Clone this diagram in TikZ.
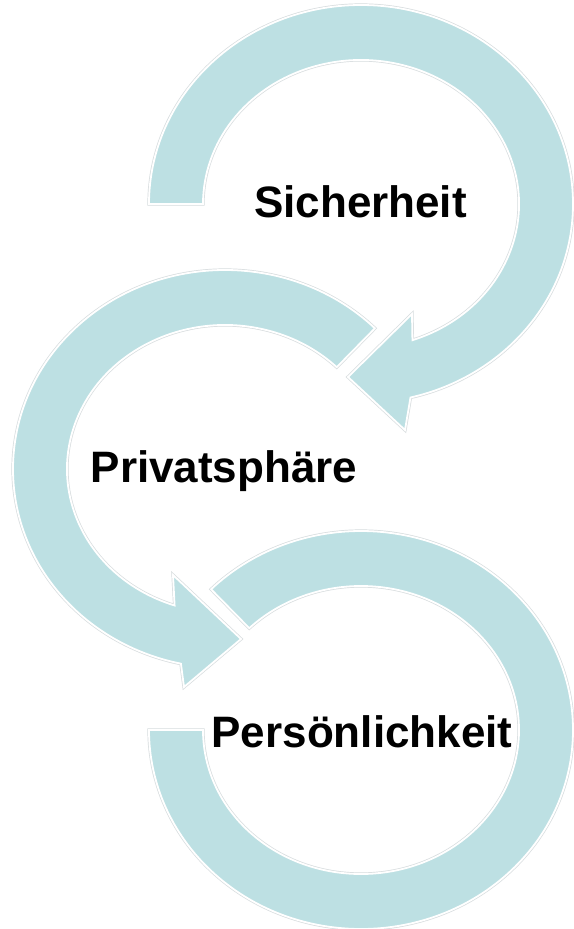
\documentclass[tikz,border=0pt]{standalone}
\usepackage{fontspec}
\setmainfont{Liberation Sans}
\usetikzlibrary{calc}
\definecolor{bandfill}{RGB}{189,224,227}
\definecolor{rim}{RGB}{215,220,222}
\tikzset{
  band/.style={fill=bandfill, draw=white, line width=1.8pt, line join=miter},
  bandrim/.style={draw=rim, line width=3.2pt, line join=miter},
  label/.style={font=\fontsize{44}{44}\selectfont\bfseries, text=black, anchor=base, inner sep=0pt}
}
\begin{document}
\begin{tikzpicture}[x=1pt,y=1pt]
\useasboundingbox (0,0) rectangle (573,-929);
\fill[white] (0,0) rectangle (573,-929);
\coordinate (c1) at (361,-204);
\coordinate (c2) at (225,-469);
\coordinate (c3) at (361,-730);
% arrowhead points of band 1
\coordinate (b1) at (405,-430);
\coordinate (t1) at (348,-377);
\coordinate (a1) at (412,-314);
% arrowhead points of band 2
\coordinate (b2) at (184,-687);
\coordinate (t2) at (241,-639);
\coordinate (a2) at (173,-575);
\def\bandone{($(c1)+(180:212pt and 199pt)$) arc[start angle=180, end angle=-76.5, x radius=212pt, y radius=199pt] -- (b1) -- (t1) -- (a1) -- ($(c1)+(-71:158pt and 144pt)$) arc[start angle=-71, end angle=180, x radius=158pt, y radius=144pt] -- cycle}
\def\bandtwo{($(c2)+(45:212pt and 199pt)$) arc[start angle=45, end angle=258, x radius=212pt, y radius=199pt] -- (b2) -- (t2) -- (a2) -- ($(c2)+(251.4:158pt and 144pt)$) arc[start angle=251.4, end angle=45, x radius=158pt, y radius=144pt] -- cycle}
\def\bandthree{($(c3)+(135:212pt and 199pt)$) arc[start angle=135, end angle=-180, x radius=212pt, y radius=199pt] -- ($(c3)+(180:158pt and 144pt)$) arc[start angle=-180, end angle=135, x radius=158pt, y radius=144pt] -- cycle}
\draw[bandrim] \bandone;
\draw[bandrim] \bandtwo;
\draw[bandrim] \bandthree;
\path[band] \bandone;
\path[band] \bandtwo;
\path[band] \bandthree;
\node[label] (sich) at (360.5,-217) {Sicherheit};
\node[label] (priv) at (224,-482) {Privatsphäre};
\node[label] (pers) at (362,-747) {Persönlichkeit};
\end{tikzpicture}
\end{document}
